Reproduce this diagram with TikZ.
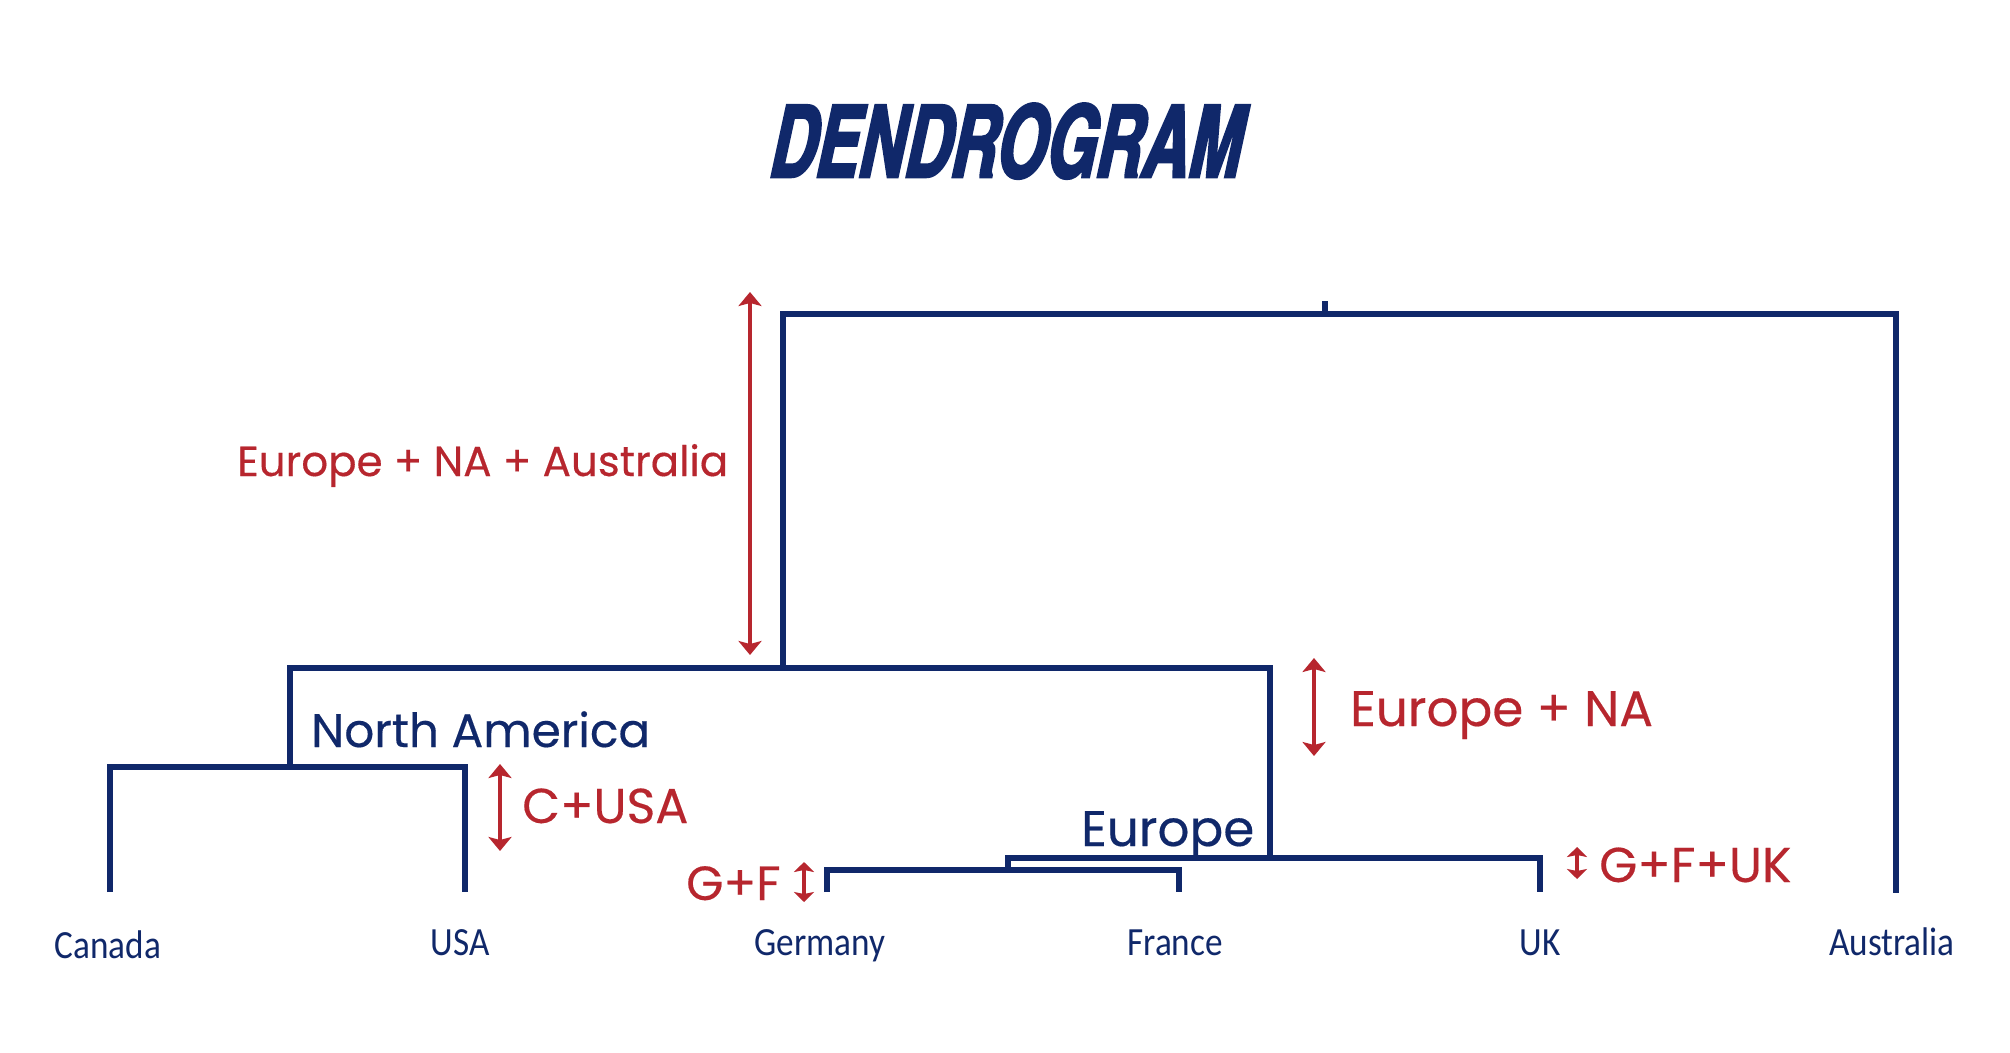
\documentclass[tikz,border=0pt]{standalone}
\usepackage{fontspec}
\setmainfont{Poppins}[FakeBold=0.35]
\newfontfamily\leaffont[FakeStretch=0.88]{Carlito}
\newfontfamily\titlefont[FakeBold=2.5,FakeStretch=0.78,FakeSlant=0.08]{texgyreheroscn-bolditalic.otf}
\usetikzlibrary{arrows.meta}
\definecolor{navy}{RGB}{16,40,106}
\definecolor{darkred}{RGB}{183,38,46}

\begin{document}
\begin{tikzpicture}[x=1pt,y=-1pt,
  dendro/.style={draw=navy, line width=6.5pt, line join=miter, line cap=butt},
  gap/.style={draw=darkred, line width=4.2pt,
    {Stealth[length=14pt,width=23pt,inset=3pt]}-{Stealth[length=14pt,width=23pt,inset=3pt]}},
  smallgap/.style={draw=darkred, line width=4.2pt,
    {Stealth[length=10pt,width=20pt,inset=2pt]}-{Stealth[length=10pt,width=20pt,inset=2pt]}},
  redlabel/.style={text=darkred, inner sep=0pt, anchor=base west},
  clusterlabel/.style={text=navy, inner sep=0pt, anchor=base west},
  leaf/.style={text=navy, inner sep=0pt, anchor=base, font=\leaffont\fontsize{40}{46}\selectfont},
]
\useasboundingbox (0,0) rectangle (2010,1052);
\fill[white] (0,0) rectangle (2010,1052);

% title
\node[text=navy, inner sep=0pt, anchor=base, font=\titlefont\fontsize{100}{110}\selectfont]
  (title) at (1005,177) {DENDROGRAM};

% leaves (tops of the leaf stems)
\coordinate (canada)    at (110,892);
\coordinate (usa)       at (465,892);
\coordinate (germany)   at (827,892);
\coordinate (france)    at (1179,892);
\coordinate (uk)        at (1540,892);
\coordinate (australia) at (1896,893);

% merge points
\coordinate (gf)    at (1008,870);
\coordinate (gfuk)  at (1270,858);
\coordinate (na)    at (290,767);
\coordinate (eurna) at (783,668);
\coordinate (root)  at (1325,314);
\coordinate (rootstem) at (1325,301);

% branches
\draw[dendro] (canada) |- (na) -| (usa);
\draw[dendro] (germany) |- (gf) -| (france);
\draw[dendro] (gf) |- (gfuk) -| (uk);
\draw[dendro] (na) |- (eurna) -| (gfuk);
\draw[dendro] (eurna) |- (root) -| (australia);
\draw[dendro] (root) -- (rootstem);

% leaf labels
\node[leaf] (lcanada)    at (108,958) {Canada};
\node[leaf] (lusa)       at (460,955) {USA};
\node[leaf] (lgermany)   at (820,955) {Germany};
\node[leaf] (lfrance)    at (1175,955) {France};
\node[leaf] (luk)        at (1540,955) {UK};
\node[leaf] (laustralia) at (1892,955) {Australia};

% cluster names
\node[clusterlabel, font=\fontsize{47}{52}\selectfont] (naname) at (311,747) {North America};
\node[clusterlabel, font=\fontsize{50}{56}\selectfont] (euname) at (1081,846) {Europe};

% merge distances
\coordinate (d1a) at (750,292);  \coordinate (d1b) at (750,655);
\coordinate (d2a) at (1314,658); \coordinate (d2b) at (1314,756);
\coordinate (d3a) at (500,764);  \coordinate (d3b) at (500,851);
\coordinate (d4a) at (804,862);  \coordinate (d4b) at (804,902);
\coordinate (d5a) at (1577,847); \coordinate (d5b) at (1577,879);
\draw[gap] (d1a) -- (d1b);
\draw[gap] (d2a) -- (d2b);
\draw[gap] (d3a) -- (d3b);
\draw[smallgap] (d4a) -- (d4b);
\draw[smallgap] (d5a) -- (d5b);

\node[redlabel, font=\fontsize{42}{48}\selectfont] (t1) at (237,476) {Europe + NA + Australia};
\node[redlabel, font=\fontsize{50}{56}\selectfont] (t2) at (1350,726) {Europe + NA};
\node[redlabel, font=\fontsize{49}{56}\selectfont] (t3) at (522,823) {C+USA};
\node[redlabel, font=\fontsize{48}{56}\selectfont] (t4) at (686,900) {G+F};
\node[redlabel, font=\fontsize{49}{56}\selectfont] (t5) at (1599,882) {G+F+UK};
\end{tikzpicture}
\end{document}
